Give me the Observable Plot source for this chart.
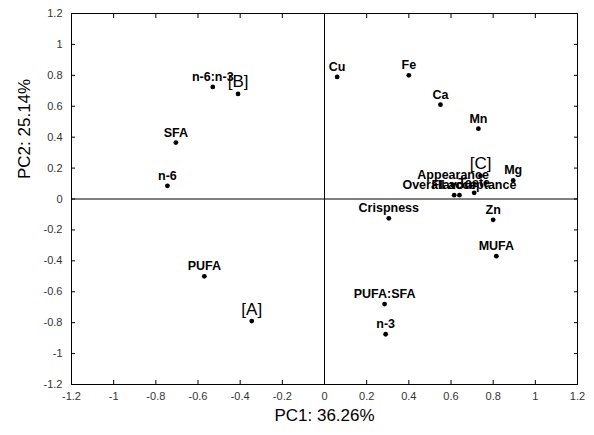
<!DOCTYPE html>
<html><head><meta charset="utf-8">
<script src="https://cdn.jsdelivr.net/npm/d3@7"></script>
<script src="https://cdn.jsdelivr.net/npm/@observablehq/plot@0.6"></script>
<style>body{margin:0;background:#fff}</style>
</head><body><div id="chart"></div>
<script>
const names = ["n-6:n-3","[B]","Cu","Fe","Ca","Mn","SFA","n-6","[C]","Mg","Appearance","Flavour","Overall acceptance","Taste","Crispness","Zn","MUFA","PUFA","[A]","PUFA:SFA","n-3"];
const pc1 = [-0.53,-0.41,0.06,0.40,0.55,0.73,-0.705,-0.745,0.74,0.895,0.61,0.615,0.64,0.71,0.305,0.80,0.815,-0.57,-0.345,0.285,0.29];
const pc2 = [0.725,0.68,0.79,0.80,0.61,0.455,0.365,0.085,0.15,0.12,0.09,0.025,0.025,0.04,-0.125,-0.135,-0.37,-0.50,-0.79,-0.68,-0.875];
const tickValues = [-1.2,-1,-0.8,-0.6,-0.4,-0.2,0,0.2,0.4,0.6,0.8,1,1.2];
const xTitle = "PC1: 36.26%";
const yTitle = "PC2: 25.14%";

const data = names.map((n, i) => ({name: n, x: pc1[i], y: pc2[i], group: n.startsWith("[")}));
const fmt = d => String(Math.round(d * 10) / 10);
const font = "'Liberation Sans', Arial, sans-serif";

const chart = Plot.plot({
  width: 594, height: 435,
  marginLeft: 71, marginRight: 17, marginTop: 13, marginBottom: 51,
  style: {fontFamily: font, background: "#fff", color: "#000"},
  x: {domain: [-1.2, 1.2]},
  y: {domain: [-1.2, 1.2]},
  marks: [
    Plot.frame({stroke: "#000"}),
    Plot.ruleX([0], {stroke: "#000"}),
    Plot.ruleY([0], {stroke: "#000"}),
    Plot.axisX(tickValues, {anchor: "bottom", tickSize: 0, tickPadding: 8, tickFormat: fmt, fontSize: 11, color: "#333", label: null}),
    Plot.axisY(tickValues, {anchor: "left", tickSize: 0, tickPadding: 9, tickFormat: fmt, fontSize: 11, color: "#333", label: null}),
    Plot.axisX(tickValues, {anchor: "bottom", tickSize: -4, tickFormat: () => "", label: null}),
    Plot.axisX(tickValues, {anchor: "top", tickSize: -4, tickFormat: () => "", label: null}),
    Plot.axisY(tickValues, {anchor: "left", tickSize: -4, tickFormat: () => "", label: null}),
    Plot.axisY(tickValues, {anchor: "right", tickSize: -4, tickFormat: () => "", label: null}),
    Plot.dot(data, {x: "x", y: "y", r: 2.4, fill: "#000"}),
    Plot.text(data.filter(d => !d.group), {x: "x", y: "y", text: "name", dy: -10, fontSize: 12.5, fontWeight: "bold", fill: "#000"}),
    Plot.text(data.filter(d => d.group), {x: "x", y: "y", text: "name", dy: -12, fontSize: 17, fill: "#000"}),
    Plot.text([xTitle], {text: d => d, frameAnchor: "bottom", dy: 36, fontSize: 17, fill: "#000"}),
    Plot.text([yTitle], {text: d => d, frameAnchor: "left", dx: -47, dy: -20, rotate: -90, fontSize: 17, fill: "#000"})
  ]
});
document.getElementById("chart").appendChild(chart);
</script>
</body></html>
